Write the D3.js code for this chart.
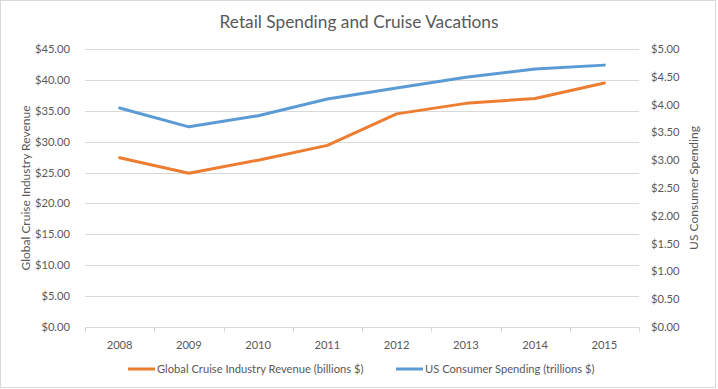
<!DOCTYPE html>
<html>
<head>
<meta charset="utf-8">
<script src="https://cdn.jsdelivr.net/npm/d3@7"></script>
<style>
  body { margin: 0; background: #fff; }
  svg { display: block; font-family: Lato, "Open Sans", sans-serif; }
</style>
</head>
<body>
<svg id="chart" width="718" height="389"></svg>
<script>
// data
const years = ["2008", "2009", "2010", "2011", "2012", "2013", "2014", "2015"];
const cruiseRevenue = [27.4, 24.9, 27.0, 29.4, 34.5, 36.2, 37.0, 39.5];
const consumerSpending = [3.94, 3.60, 3.80, 4.10, 4.30, 4.49, 4.64, 4.71];
const leftTicks = [0, 5, 10, 15, 20, 25, 30, 35, 40, 45];
const rightTicks = [0, 0.5, 1, 1.5, 2, 2.5, 3, 3.5, 4, 4.5, 5];

const svg = d3.select("#chart");
const W = 718, H = 389;
const m = { left: 85, right: 79, top: 49, bottom: 62 };
const textColor = "#595959";
const fs = 11.2;

// border
svg.append("rect")
    .attr("x", 0.5).attr("y", 0.5)
    .attr("width", W - 3).attr("height", H - 2)
    .attr("fill", "#fff")
    .attr("stroke", "#d9d9d9");

const x = d3.scaleBand()
    .domain(years)
    .range([m.left, W - m.right]);

const yL = d3.scaleLinear().domain([0, 45]).range([H - m.bottom, m.top]);
const yR = d3.scaleLinear().domain([0, 5]).range([H - m.bottom, m.top]);

const money = d3.format("$.2f");

// gridlines
svg.append("g")
    .selectAll("line")
    .data(leftTicks.filter(d => d > 0))
    .enter().append("line")
    .attr("x1", m.left).attr("x2", W - m.right)
    .attr("y1", d => Math.round(yL(d)) + 0.5)
    .attr("y2", d => Math.round(yL(d)) + 0.5)
    .attr("stroke", "#d9d9d9")
    .attr("stroke-width", 1);

// x axis
const xAxis = svg.append("g")
    .attr("transform", "translate(0," + (Math.round(yL(0)) + 0.5) + ")");
xAxis.append("line")
    .attr("x1", m.left).attr("x2", W - m.right)
    .attr("stroke", "#d9d9d9");
xAxis.selectAll(".tk")
    .data(years.map(d => x(d)).concat([W - m.right]))
    .enter().append("line")
    .attr("x1", d => Math.round(d) + 0.5).attr("x2", d => Math.round(d) + 0.5)
    .attr("y1", 0).attr("y2", 5)
    .attr("stroke", "#d9d9d9");
xAxis.selectAll("text")
    .data(years)
    .enter().append("text")
    .attr("x", d => x(d) + x.bandwidth() / 2)
    .attr("y", 21)
    .attr("text-anchor", "middle")
    .attr("font-size", fs)
    .attr("fill", textColor)
    .text(d => d);

// left axis labels
svg.append("g")
    .selectAll("text")
    .data(leftTicks)
    .enter().append("text")
    .attr("x", 70)
    .attr("y", d => yL(d) + 4)
    .attr("text-anchor", "end")
    .attr("font-size", fs)
    .attr("fill", textColor)
    .text(d => money(d));

// right axis labels
svg.append("g")
    .selectAll("text")
    .data(rightTicks)
    .enter().append("text")
    .attr("x", 651)
    .attr("y", d => yR(d) + 4)
    .attr("text-anchor", "start")
    .attr("font-size", fs)
    .attr("fill", textColor)
    .text(d => money(d));

// axis titles
svg.append("text")
    .attr("transform", "translate(30," + ((m.top + H - m.bottom) / 2) + ") rotate(-90)")
    .attr("text-anchor", "middle")
    .attr("font-size", 12)
    .attr("fill", textColor)
    .text("Global Cruise Industry Revenue");

svg.append("text")
    .attr("transform", "translate(698," + ((m.top + H - m.bottom) / 2) + ") rotate(-90)")
    .attr("text-anchor", "middle")
    .attr("font-size", 12)
    .attr("fill", textColor)
    .text("US Consumer Spending");

// title
svg.append("text")
    .attr("x", 359).attr("y", 28)
    .attr("text-anchor", "middle")
    .attr("font-size", 17.3)
    .attr("fill", textColor)
    .text("Retail Spending and Cruise Vacations");

// lines
const cx = (d, i) => x(years[i]) + x.bandwidth() / 2;

svg.append("path")
    .datum(consumerSpending)
    .attr("fill", "none")
    .attr("stroke", "#5b9bd5")
    .attr("stroke-width", 3)
    .attr("stroke-linejoin", "round")
    .attr("stroke-linecap", "round")
    .attr("d", d3.line().x(cx).y(d => yR(d)));

svg.append("path")
    .datum(cruiseRevenue)
    .attr("fill", "none")
    .attr("stroke", "#ed7d31")
    .attr("stroke-width", 3)
    .attr("stroke-linejoin", "round")
    .attr("stroke-linecap", "round")
    .attr("d", d3.line().x(cx).y(d => yL(d)));

// legend
const legend = [
    { name: "Global Cruise Industry Revenue (billions $)", color: "#ed7d31", x: 128 },
    { name: "US Consumer Spending (trillions $)", color: "#5b9bd5", x: 396 }
];
const lg = svg.append("g").selectAll("g")
    .data(legend)
    .enter().append("g")
    .attr("transform", d => "translate(" + d.x + ",369)");
lg.append("line")
    .attr("x1", 0).attr("x2", 27)
    .attr("stroke", d => d.color)
    .attr("stroke-width", 3);
lg.append("text")
    .attr("x", 29).attr("y", 4)
    .attr("font-size", fs)
    .attr("fill", textColor)
    .text(d => d.name);
</script>
</body>
</html>
